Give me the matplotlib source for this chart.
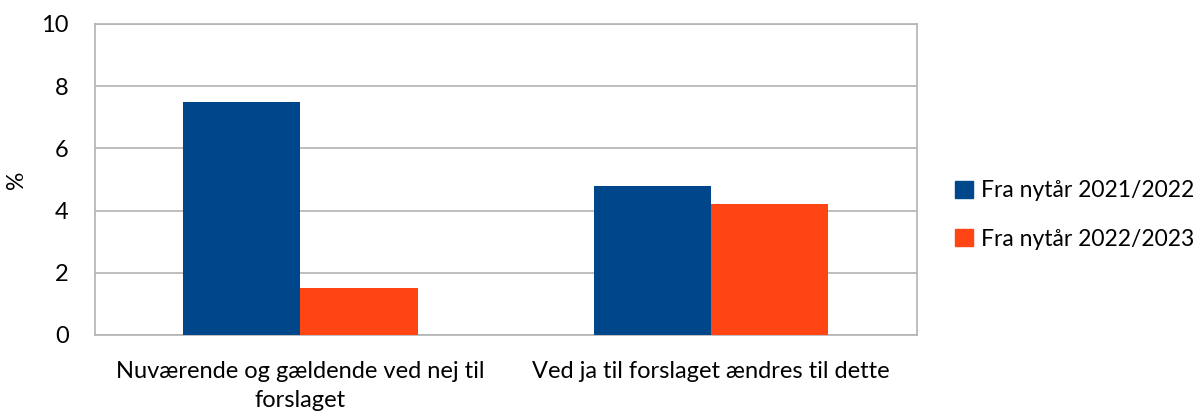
import matplotlib.pyplot as plt
import numpy as np
from matplotlib.patches import Patch

plt.rcParams["font.family"] = ["Lato", "DejaVu Sans"]

categories = ["Nuværende og gældende ved nej til\nforslaget", "Ved ja til forslaget ændres til dette"]
series_names = ["Fra nytår 2021/2022", "Fra nytår 2022/2023"]
values_2122 = [7.5, 4.8]
values_2223 = [1.5, 4.2]
colors = ["#00468B", "#FF4514"]

fig = plt.figure(figsize=(12.03, 4.12), dpi=100)
ax = fig.add_axes([0.079, 0.187, 0.683, 0.755])

x = np.arange(len(categories))
width = 0.285
ax.bar(x - width / 2, values_2122, width, color=colors[0], zorder=3)
ax.bar(x + width / 2, values_2223, width, color=colors[1], zorder=3)

ax.set_xlim(-0.5, 1.5)
ax.set_ylim(0, 10)
ax.set_yticks(np.arange(0, 11, 2))
ax.grid(axis="y", color="#B3B3B3", linewidth=1.2, zorder=0)
for s in ax.spines.values():
    s.set_color("#B3B3B3")
    s.set_linewidth(1.2)
ax.tick_params(axis="y", length=0, labelsize=17, pad=19)
ax.set_xticks(x)
ax.set_xticklabels(categories, fontsize=17, linespacing=1.45)
ax.tick_params(axis="x", length=0, pad=19)
ax.set_ylabel("%", fontsize=16.5)
ax.yaxis.set_label_coords(-0.083, 0.5)

handles = [Patch(color=c) for c in colors]
fig.legend(handles, series_names, loc="center left", bbox_to_anchor=(0.777, 0.478),
           frameon=False, fontsize=16.5, handlelength=0.75, handleheight=0.75,
           handletextpad=0.35, labelspacing=1.2)

fig.savefig("out.png", dpi=100)
